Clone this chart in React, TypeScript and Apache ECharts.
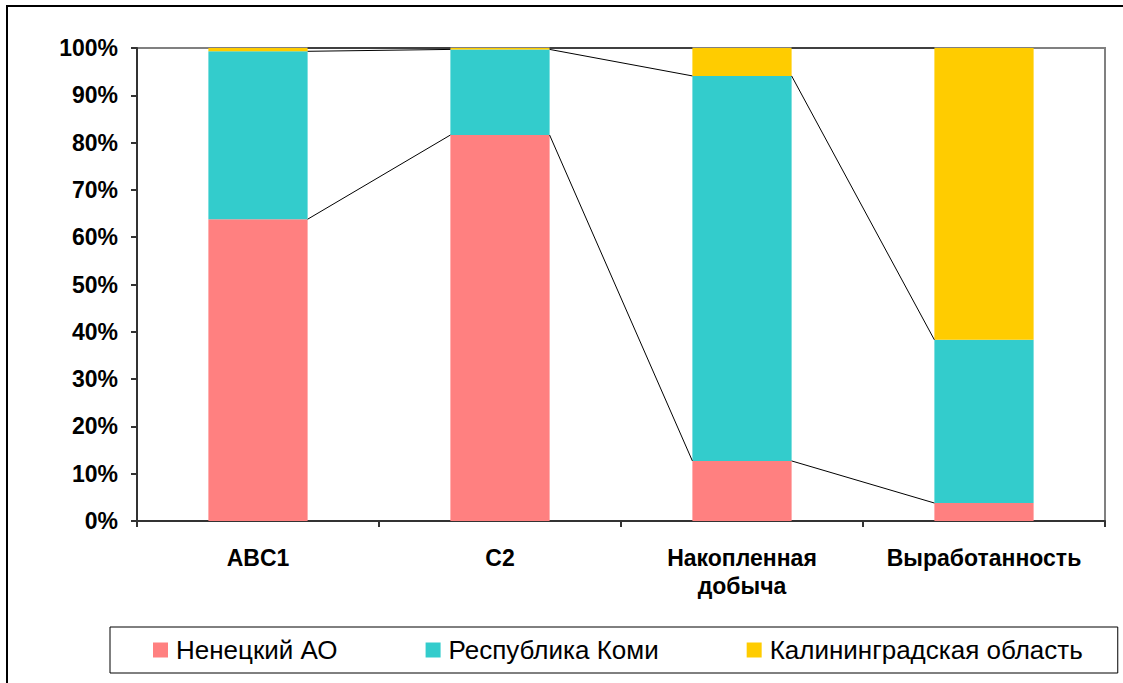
import React, { useEffect, useRef } from "react";
import * as echarts from "echarts";

const categories = ["ABC1", "C2", "Накопленная\nдобыча", "Выработанность"];
const seriesNames = ["Ненецкий АО", "Республика Коми", "Калининградская область"];
const nenets = [63.8, 81.6, 12.7, 3.8];
const komi = [35.5, 18.1, 81.4, 34.5];
const kaliningrad = [0.7, 0.3, 5.9, 61.7];
const colors = ["#FF8080", "#33CCCC", "#FFCC00"];
const BAR_FRAC = 0.41;

export default function App() {
  const ref = useRef<HTMLDivElement>(null);
  useEffect(() => {
    if (!ref.current) return;
    const chart = echarts.init(ref.current, null, { renderer: "svg" });
    const all = [nenets, komi, kaliningrad];
    const cum: number[][] = categories.map((_, i) => {
      let s = 0;
      return all.map((arr) => (s += arr[i]));
    });
    const lineData = [];
    for (let i = 0; i < categories.length - 1; i++) {
      lineData.push([i, ...cum[i], ...cum[i + 1]]);
    }
    const font = "'Liberation Sans', Arial, sans-serif";
    chart.setOption({
      animation: false,
      color: colors,
      graphic: [
        {
          type: "rect",
          shape: { x: 7, y: 6, width: 1140, height: 700 },
          style: { fill: "none", stroke: "#000", lineWidth: 2 },
          silent: true,
        },
      ],
      grid: {
        left: 137,
        right: 18,
        top: 48,
        bottom: 162,
        show: true,
        borderColor: "#808080",
        borderWidth: 2,
        backgroundColor: "#fff",
      },
      legend: {
        data: seriesNames,
        left: 110,
        top: 627,
        orient: "horizontal",
        itemWidth: 15,
        itemHeight: 15,
        itemGap: 88,
        borderColor: "#000",
        borderWidth: 1,
        padding: [10, 35, 10, 43],
        icon: "rect",
        textStyle: { fontFamily: font, fontSize: 26, color: "#000", padding: [0, 0, 0, 3] },
      },
      xAxis: {
        type: "category",
        data: categories,
        axisLine: { lineStyle: { color: "#333", width: 2 } },
        axisTick: { show: true, interval: 0, length: 6, lineStyle: { color: "#333", width: 2 } },
        axisLabel: {
          interval: 0,
          hideOverlap: false,
          fontFamily: font,
          fontSize: 23,
          fontWeight: "bold",
          color: "#000",
          margin: 23,
          lineHeight: 28,
        },
      },
      yAxis: {
        type: "value",
        min: 0,
        max: 100,
        interval: 10,
        splitLine: { show: false },
        axisLine: { show: true, lineStyle: { color: "#333", width: 2 } },
        axisTick: { show: true, length: 6, lineStyle: { color: "#333", width: 2 } },
        axisLabel: {
          formatter: "{value}%",
          fontFamily: font,
          fontSize: 23,
          fontWeight: "bold",
          color: "#000",
          margin: 19,
        },
      },
      series: [
        ...all.map((arr, k) => ({
          name: seriesNames[k],
          type: "bar",
          stack: "total",
          barWidth: BAR_FRAC * 100 + "%",
          data: arr,
          itemStyle: { color: colors[k] },
        })),
        {
          type: "custom",
          silent: true,
          z: 10,
          data: lineData,
          encode: { x: 0, y: [1, 2, 3, 4, 5, 6] },
          renderItem: (params: any, api: any) => {
            const i = api.value(0);
            const band = api.size([1, 0])[0];
            const half = (band * BAR_FRAC) / 2;
            const children = [];
            for (let k = 0; k < 3; k++) {
              const p1 = api.coord([i, api.value(1 + k)]);
              const p2 = api.coord([i + 1, api.value(4 + k)]);
              children.push({
                type: "line",
                shape: { x1: p1[0] + half, y1: p1[1], x2: p2[0] - half, y2: p2[1] },
                style: { stroke: "#000", lineWidth: 1 },
              });
            }
            return { type: "group", children };
          },
        },
      ],
    });
    return () => chart.dispose();
  }, []);
  return (
    <div
      ref={ref}
      style={{ position: "fixed", left: 0, top: 0, width: 1123, height: 683, background: "#fff" }}
    />
  );
}
